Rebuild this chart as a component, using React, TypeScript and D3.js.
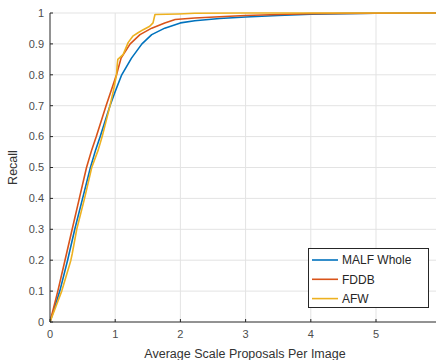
import * as React from 'react';
import * as d3 from 'd3';

// recall curves
const malfX = [0, 0.15, 0.27, 0.38, 0.5, 0.62, 0.7, 0.77, 0.92, 1.0, 1.1, 1.25, 1.41, 1.56, 1.76, 2.0, 2.22, 2.6, 3.0, 3.5, 4.0, 4.5, 5.0, 5.92];
const malfY = [0, 0.1, 0.2, 0.3, 0.4, 0.5, 0.557, 0.6, 0.7, 0.746, 0.8, 0.854, 0.9, 0.93, 0.951, 0.968, 0.975, 0.982, 0.987, 0.992, 0.996, 0.998, 0.999, 1.0];

const fddbX = [0, 0.12, 0.23, 0.34, 0.45, 0.56, 0.64, 0.71, 0.86, 1.02, 1.09, 1.23, 1.38, 1.56, 1.76, 1.92, 2.22, 2.6, 3.0, 3.5, 4.0, 5.0, 5.92];
const fddbY = [0, 0.1, 0.2, 0.3, 0.4, 0.5, 0.557, 0.6, 0.7, 0.8, 0.854, 0.9, 0.93, 0.951, 0.968, 0.979, 0.984, 0.988, 0.992, 0.995, 0.998, 0.999, 1.0];

const afwX = [0, 0.18, 0.3, 0.32, 0.34, 0.41, 0.53, 0.64, 0.74, 0.8, 0.92, 0.97, 1.02, 1.03, 1.04, 1.12, 1.15, 1.2, 1.27, 1.35, 1.43, 1.53, 1.58, 1.61, 1.97, 2.22, 3.0, 4.0, 5.92];
const afwY = [0, 0.1, 0.185, 0.2, 0.22, 0.3, 0.4, 0.5, 0.557, 0.6, 0.7, 0.746, 0.8, 0.83, 0.85, 0.865, 0.88, 0.905, 0.925, 0.936, 0.946, 0.957, 0.968, 0.995, 0.997, 0.999, 1.0, 1.0, 1.0];

const seriesNames = ["MALF Whole", "FDDB", "AFW"];
const seriesColors = ["#0072BD", "#D95319", "#EDB120"];
const xTicks = [0, 1, 2, 3, 4, 5];
const yTicks = [0, 0.1, 0.2, 0.3, 0.4, 0.5, 0.6, 0.7, 0.8, 0.9, 1];

const W = 436, H = 360;
const left = 50, right = 436, top = 13, bottom = 322;
const font = "'Liberation Sans', Arial, sans-serif";

export default function App() {
  const x = d3.scaleLinear().domain([0, 5.92]).range([left, right]);
  const y = d3.scaleLinear().domain([0, 1]).range([bottom, top]);
  const line = d3.line<[number, number]>().x(d => x(d[0])).y(d => y(d[1]));
  const series = [
    d3.zip(malfX, malfY) as [number, number][],
    d3.zip(fddbX, fddbY) as [number, number][],
    d3.zip(afwX, afwY) as [number, number][],
  ];

  return (
    <svg width={W} height={H} style={{ position: 'absolute', left: 0, top: 0, background: '#fff' }}>
      {/* grid */}
      {xTicks.filter(t => t > 0).map(t => (
        <line key={'gx' + t} x1={x(t)} x2={x(t)} y1={top} y2={bottom} stroke="#e3e3e3" strokeWidth={1} />
      ))}
      {yTicks.filter(t => t > 0).map(t => (
        <line key={'gy' + t} x1={left} x2={right} y1={y(t)} y2={y(t)} stroke="#e3e3e3" strokeWidth={1} />
      ))}
      {/* curves */}
      <g clipPath="url(#clip)">
        {series.map((s, i) => (
          <path key={i} d={line(s) || ''} fill="none" stroke={seriesColors[i]} strokeWidth={1.6} strokeLinejoin="round" />
        ))}
      </g>
      {/* axes */}
      <line x1={left} x2={left} y1={top} y2={bottom} stroke="#262626" strokeWidth={1} />
      <line x1={left} x2={right} y1={bottom} y2={bottom} stroke="#262626" strokeWidth={1} />
      {yTicks.map(t => (
        <g key={'yt' + t}>
          <line x1={left} x2={left + 3} y1={y(t)} y2={y(t)} stroke="#262626" />
          <text x={left - 6} y={y(t)} dy="0.35em" textAnchor="end" fontFamily={font} fontSize={11} fill="#4d4d4d">{t}</text>
        </g>
      ))}
      {xTicks.map(t => (
        <g key={'xt' + t}>
          <line x1={x(t)} x2={x(t)} y1={bottom} y2={bottom - 3} stroke="#262626" />
          <text x={x(t)} y={bottom + 16} textAnchor="middle" fontFamily={font} fontSize={11} fill="#4d4d4d">{t}</text>
        </g>
      ))}
      <text transform={`translate(17,${(top + bottom) / 2}) rotate(-90)`} textAnchor="middle" fontFamily={font} fontSize={12.5} fill="#333">Recall</text>
      <text x={(left + right) / 2 + 2} y={358} textAnchor="middle" fontFamily={font} fontSize={12.5} fill="#333">Average Scale Proposals Per Image</text>
      {/* legend */}
      <rect x={308.5} y={248.5} width={120} height={59} fill="#fff" stroke="#262626" strokeWidth={1} />
      {seriesNames.map((n, i) => (
        <g key={n}>
          <line x1={312} x2={338} y1={260 + i * 19.3} y2={260 + i * 19.3} stroke={seriesColors[i]} strokeWidth={1.6} />
          <text x={342} y={260 + i * 19.3} dy="0.36em" fontFamily={font} fontSize={12} fill="#262626">{n}</text>
        </g>
      ))}
      <defs>
        <clipPath id="clip"><rect x={left} y={top - 2} width={right - left} height={bottom - top + 4} /></clipPath>
      </defs>
    </svg>
  );
}
